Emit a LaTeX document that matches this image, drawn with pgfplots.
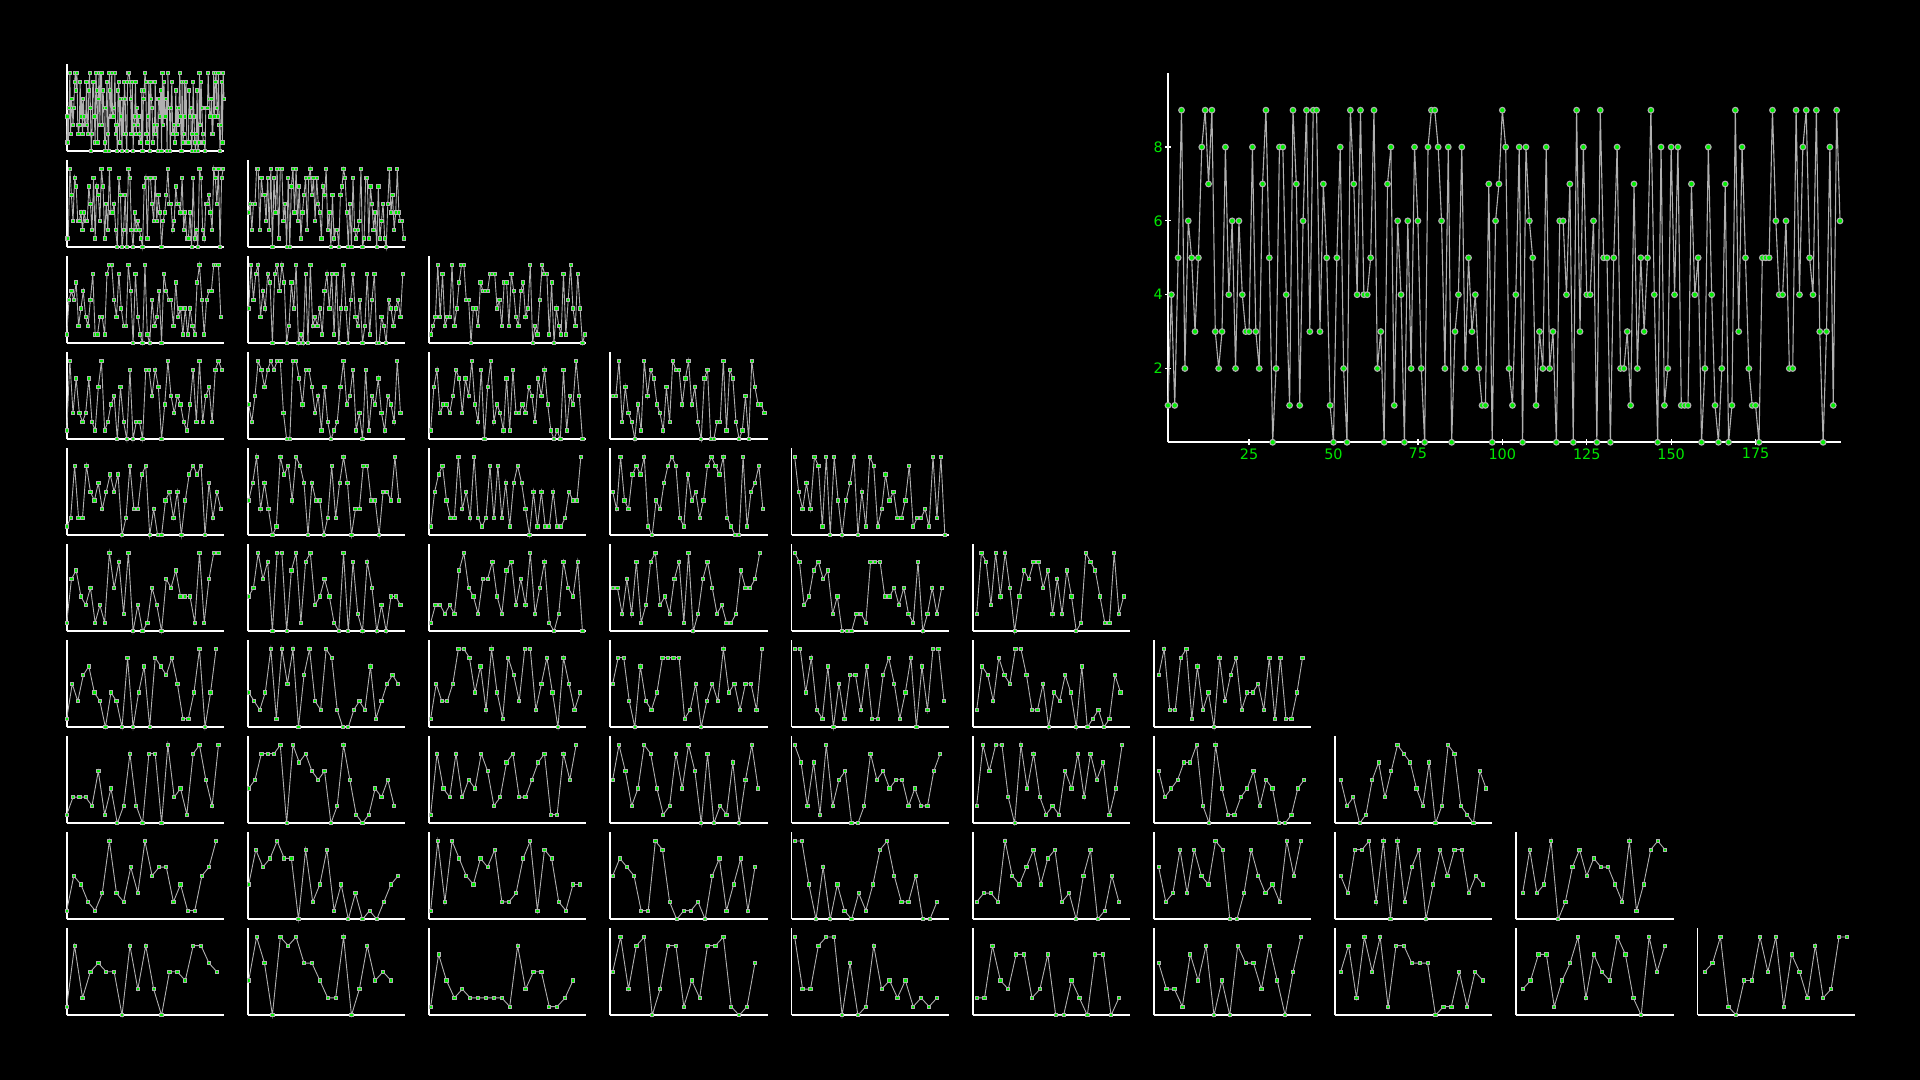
\documentclass[border=0pt]{standalone}
\usepackage{pgfplots}
\pgfplotsset{compat=1.18}
\usepackage{pgfplotstable}
\usepackage{fontspec}
\setmainfont{DejaVu Sans}
\definecolor{mygreen}{HTML}{00E600}
\definecolor{markgreen}{HTML}{00F000}
\definecolor{linegray}{HTML}{B0B0B0}
\newcount\myc
\pgfplotstableread[row sep=\\]{
x d\\
1 1\\ 2 4\\ 3 1\\ 4 5\\ 5 9\\ 6 2\\ 7 6\\ 8 5\\ 9 3\\ 10 5\\
11 8\\ 12 9\\ 13 7\\ 14 9\\ 15 3\\ 16 2\\ 17 3\\ 18 8\\ 19 4\\ 20 6\\
21 2\\ 22 6\\ 23 4\\ 24 3\\ 25 3\\ 26 8\\ 27 3\\ 28 2\\ 29 7\\ 30 9\\
31 5\\ 32 0\\ 33 2\\ 34 8\\ 35 8\\ 36 4\\ 37 1\\ 38 9\\ 39 7\\ 40 1\\
41 6\\ 42 9\\ 43 3\\ 44 9\\ 45 9\\ 46 3\\ 47 7\\ 48 5\\ 49 1\\ 50 0\\
51 5\\ 52 8\\ 53 2\\ 54 0\\ 55 9\\ 56 7\\ 57 4\\ 58 9\\ 59 4\\ 60 4\\
61 5\\ 62 9\\ 63 2\\ 64 3\\ 65 0\\ 66 7\\ 67 8\\ 68 1\\ 69 6\\ 70 4\\
71 0\\ 72 6\\ 73 2\\ 74 8\\ 75 6\\ 76 2\\ 77 0\\ 78 8\\ 79 9\\ 80 9\\
81 8\\ 82 6\\ 83 2\\ 84 8\\ 85 0\\ 86 3\\ 87 4\\ 88 8\\ 89 2\\ 90 5\\
91 3\\ 92 4\\ 93 2\\ 94 1\\ 95 1\\ 96 7\\ 97 0\\ 98 6\\ 99 7\\ 100 9\\
101 8\\ 102 2\\ 103 1\\ 104 4\\ 105 8\\ 106 0\\ 107 8\\ 108 6\\ 109 5\\ 110 1\\
111 3\\ 112 2\\ 113 8\\ 114 2\\ 115 3\\ 116 0\\ 117 6\\ 118 6\\ 119 4\\ 120 7\\
121 0\\ 122 9\\ 123 3\\ 124 8\\ 125 4\\ 126 4\\ 127 6\\ 128 0\\ 129 9\\ 130 5\\
131 5\\ 132 0\\ 133 5\\ 134 8\\ 135 2\\ 136 2\\ 137 3\\ 138 1\\ 139 7\\ 140 2\\
141 5\\ 142 3\\ 143 5\\ 144 9\\ 145 4\\ 146 0\\ 147 8\\ 148 1\\ 149 2\\ 150 8\\
151 4\\ 152 8\\ 153 1\\ 154 1\\ 155 1\\ 156 7\\ 157 4\\ 158 5\\ 159 0\\ 160 2\\
161 8\\ 162 4\\ 163 1\\ 164 0\\ 165 2\\ 166 7\\ 167 0\\ 168 1\\ 169 9\\ 170 3\\
171 8\\ 172 5\\ 173 2\\ 174 1\\ 175 1\\ 176 0\\ 177 5\\ 178 5\\ 179 5\\ 180 9\\
181 6\\ 182 4\\ 183 4\\ 184 6\\ 185 2\\ 186 2\\ 187 9\\ 188 4\\ 189 8\\ 190 9\\
191 5\\ 192 4\\ 193 9\\ 194 3\\ 195 0\\ 196 3\\ 197 8\\ 198 1\\ 199 9\\ 200 6\\
}\pidigits
\pgfplotsset{
  panel/.style={
    anchor=south west, scale only axis,
    xmin=1, xmax=200, ymin=0, ymax=10,
    axis x line*=bottom, axis y line*=left,
    axis line style={-, white, line width=0.85pt},
    x axis line style={-}, y axis line style={-},
    clip=false,
  },
  small panel/.style={panel, width=78.65pt, height=43.5pt, xtick=\empty, ytick=\empty},
}
\begin{document}
\begin{tikzpicture}[x=1pt,y=1pt]
\fill[black] (0,0) rectangle (960,540);
\path[use as bounding box] (0,0) rectangle (960,540);
\foreach \pr in {1,...,10}{
  \foreach \pc in {1,...,\pr}{
    \pgfmathsetmacro\xpos{33.35+(\pc-1)*90.6}
    \pgfmathsetmacro\ypos{464.35-(\pr-1)*48}
    \begin{axis}[small panel, at={(\xpos pt,\ypos pt)}]
      \addplot[color=linegray, line width=0.45pt, mark=square*, mark size=0.82pt,
        mark options={draw=none, fill=markgreen},
        filter discard warning=false,
        x filter/.code={%
          \myc=\numexpr\coordindex+\pr-\pc+1\relax
          \divide\myc by \pr\relax
          \multiply\myc by \pr\relax
          \ifnum\myc=\numexpr\coordindex+\pr-\pc+1\relax
            \ifnum\coordindex>\numexpr200-\pr\relax\let\pgfmathresult\empty\fi
          \else\let\pgfmathresult\empty\fi
        }] table[x=x, y=d] {\pidigits};
    \end{axis}
  }
}
\begin{axis}[panel, at={(584pt,318.85pt)}, width=336.5pt, height=184.5pt,
  xmax=200.3,
  xtick={25,50,75,100,125,150,175}, ytick={2,4,6,8},
  tick align=center, major tick length=2.85pt,
  tick style={white, line width=0.6pt},
  ticklabel style={text=mygreen, font=\fontsize{7.2}{8.5}\selectfont},
  /pgf/number format/assume math mode=true,
  xticklabel style={inner sep=1.4pt},
  yticklabel style={inner sep=1pt},
]
  \addplot[color=linegray, line width=0.55pt, mark=*, mark size=1.42pt,
    mark options={draw=none, fill=markgreen}] table[x=x, y=d] {\pidigits};
\end{axis}
\end{tikzpicture}
\end{document}
